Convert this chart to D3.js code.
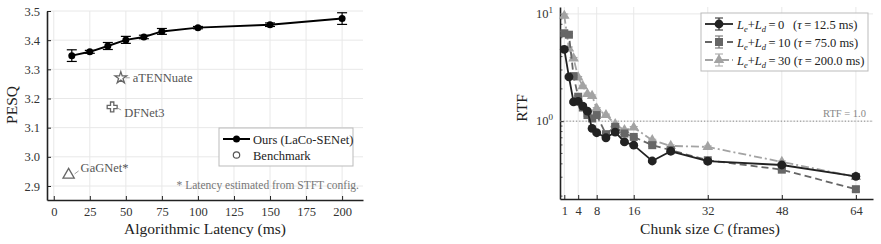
<!DOCTYPE html>
<html>
<head>
<meta charset="utf-8">
<script src="https://cdn.jsdelivr.net/npm/d3@7"></script>
<style>
  body { margin: 0; background: #fff; }
  svg { font-family: "Liberation Serif", "DejaVu Serif", serif; }
  .grid line { stroke: #e8e8e8; stroke-width: 1; }
  .axis .domain { stroke: #222; stroke-width: 1.6; }
  .axis .tick line { stroke: #222; stroke-width: 1; }
  .axis text { font-size: 12.5px; fill: #333; font-family: "Liberation Serif", serif; }
</style>
</head>
<body>
<svg id="chart" width="881" height="244"></svg>
<script>
// ---- left panel data: PESQ vs algorithmic latency
const latency = [12.5, 25, 37.5, 50, 62.5, 75, 100, 150, 200]
const pesq = [3.347, 3.360, 3.380, 3.401, 3.411, 3.430, 3.443, 3.453, 3.474]
const pesqErr = [0.020, 0.005, 0.012, 0.012, 0.006, 0.010, 0.004, 0.006, 0.020]

const benchNames = ['aTENNuate', 'DFNet3', 'GaGNet*']
const benchLatency = [46.5, 40.5, 10.3]
const benchPesq = [3.271, 3.171, 2.938]

const latTicks = [0, 25, 50, 75, 100, 125, 150, 175, 200]
const pesqTicks = [2.9, 3.0, 3.1, 3.2, 3.3, 3.4, 3.5]

// ---- right panel data: RTF vs chunk size
const chunk = [1, 2, 3, 4, 5, 6, 7, 8, 10, 12, 14, 16, 20, 24, 32, 48, 64]
const rtf0 = [4.68, 2.59, 1.51, 1.53, 1.38, 1.24, 0.855, 0.78, 0.70, 0.79, 0.64, 0.597, 0.425, 0.524, 0.423, 0.39, 0.306]
const rtf10 = [6.6, 6.4, 2.63, 1.69, 1.34, 1.14, 1.06, 1.14, 0.756, 0.885, 0.767, 0.713, 0.597, 0.536, 0.432, 0.353, 0.232]
const rtf30 = [9.6, 4.77, 3.85, 2.56, 2.12, 1.79, 1.72, 1.31, 1.14, 0.937, 0.824, 0.873, 0.665, 0.588, 0.575, 0.417, 0.302]
const errRel = [0.04, 0.03, 0.02, 0.02, 0.02, 0.02, 0.02, 0.02, 0.02, 0.02, 0.02, 0.02, 0.02, 0.02, 0.02, 0.02, 0.05]
const lookahead = [0, 10, 30]
const tauMs = ['12.5', '75.0', '200.0']
const chunkTicks = [1, 4, 8, 16, 32, 48, 64]

const svg = d3.select('#chart')

// ================= LEFT PANEL =================
const L = { left: 47, right: 363, top: 11, bottom: 200 }
const xL = d3.scaleLinear().domain([-4.7, 214.5]).range([L.left, L.right])
const yL = d3.scaleLinear().domain([2.852, 3.5]).range([L.bottom, L.top])

const gL = svg.append('g')

gL.append('g').attr('class', 'grid')
  .selectAll('line').data(latTicks).join('line')
  .attr('x1', d => xL(d)).attr('x2', d => xL(d))
  .attr('y1', L.top).attr('y2', L.bottom)
gL.append('g').attr('class', 'grid')
  .selectAll('line').data(pesqTicks).join('line')
  .attr('x1', L.left).attr('x2', L.right)
  .attr('y1', d => yL(d)).attr('y2', d => yL(d))

gL.append('g').attr('class', 'axis')
  .attr('transform', `translate(0,${L.bottom})`)
  .call(d3.axisBottom(xL).tickValues(latTicks).tickSize(-4).tickSizeOuter(0).tickPadding(7))
gL.append('g').attr('class', 'axis')
  .attr('transform', `translate(${L.left},0)`)
  .call(d3.axisLeft(yL).tickValues(pesqTicks).tickFormat(d3.format('.1f')).tickSize(-4).tickSizeOuter(0).tickPadding(7))

// benchmarks
const symScale = d3.scaleOrdinal().domain(benchNames).range([d3.symbolStar, d3.symbolCross, d3.symbolTriangle])
const symSize = { 'aTENNuate': 42, 'DFNet3': 55, 'GaGNet*': 55 }
const labelOff = { 'aTENNuate': [12, 4, 5, 0, 9, 0], 'DFNet3': [12, 10, 5, 1, 9, 3], 'GaGNet*': [12, -3, 6, -1, 10, -4] }
const bench = benchNames.map((n, i) => ({ name: n, x: benchLatency[i], y: benchPesq[i] }))
const bg = gL.append('g').selectAll('g').data(bench).join('g')
  .attr('transform', d => `translate(${xL(d.x)},${yL(d.y)})`)
bg.append('path')
  .attr('d', d => d3.symbol(symScale(d.name), symSize[d.name])())
  .attr('fill', '#fff').attr('stroke', '#666').attr('stroke-width', 1.3)
bg.append('line')
  .attr('x1', d => labelOff[d.name][2]).attr('y1', d => labelOff[d.name][3])
  .attr('x2', d => labelOff[d.name][4]).attr('y2', d => labelOff[d.name][5])
  .attr('stroke', '#888').attr('stroke-width', 0.8)
bg.append('text')
  .attr('x', d => labelOff[d.name][0]).attr('y', d => labelOff[d.name][1])
  .attr('font-size', 12.5).attr('fill', '#555')
  .text(d => d.name)

// ours
const ours = latency.map((x, i) => ({ x, y: pesq[i], e: pesqErr[i] }))
gL.append('path').datum(ours)
  .attr('fill', 'none').attr('stroke', '#000').attr('stroke-width', 2)
  .attr('d', d3.line().x(d => xL(d.x)).y(d => yL(d.y)))
const eb = gL.append('g').selectAll('g').data(ours).join('g')
eb.append('line')
  .attr('x1', d => xL(d.x)).attr('x2', d => xL(d.x))
  .attr('y1', d => yL(d.y - d.e)).attr('y2', d => yL(d.y + d.e))
  .attr('stroke', '#000').attr('stroke-width', 1.2)
eb.selectAll('.cap').data(d => [[d.x, d.y - d.e], [d.x, d.y + d.e]]).join('line')
  .attr('x1', d => xL(d[0]) - 5).attr('x2', d => xL(d[0]) + 5)
  .attr('y1', d => yL(d[1])).attr('y2', d => yL(d[1]))
  .attr('stroke', '#000').attr('stroke-width', 1.2)
eb.append('circle')
  .attr('cx', d => xL(d.x)).attr('cy', d => yL(d.y)).attr('r', 3.5).attr('fill', '#000')

// legend
const lg = gL.append('g').attr('transform', 'translate(219,128)')
lg.append('rect').attr('width', 134).attr('height', 38)
  .attr('fill', '#fff').attr('stroke', '#bbb').attr('stroke-width', 1)
lg.append('line').attr('x1', 4).attr('x2', 31).attr('y1', 11).attr('y2', 11)
  .attr('stroke', '#000').attr('stroke-width', 2)
lg.append('circle').attr('cx', 17.5).attr('cy', 11).attr('r', 3.5).attr('fill', '#000')
lg.append('text').attr('x', 34).attr('y', 15.5).attr('font-size', 12.5).attr('fill', '#222').text('Ours (LaCo-SENet)')
lg.append('circle').attr('cx', 17.5).attr('cy', 27).attr('r', 3.2)
  .attr('fill', '#fff').attr('stroke', '#555').attr('stroke-width', 1.2)
lg.append('text').attr('x', 34).attr('y', 31.5).attr('font-size', 12.5).attr('fill', '#222').text('Benchmark')

gL.append('text').attr('x', 359).attr('y', 189).attr('text-anchor', 'end')
  .attr('font-size', 11.5).attr('fill', '#777').text('* Latency estimated from STFT config.')

gL.append('text').attr('x', 205).attr('y', 234).attr('text-anchor', 'middle')
  .attr('font-size', 15.5).attr('fill', '#222').text('Algorithmic Latency (ms)')
gL.append('text').attr('transform', 'translate(17,105) rotate(-90)').attr('text-anchor', 'middle')
  .attr('font-size', 15.5).attr('fill', '#222').text('PESQ')

// ================= RIGHT PANEL =================
const R = { left: 560, right: 873, top: 7, bottom: 199 }
const xR = d3.scaleLinear().domain([0.07, 67.7]).range([R.left, R.right])
const yR = d3.scaleLog().domain([0.188, 11.6]).range([R.bottom, R.top])

const gR = svg.append('g')
gR.append('g').attr('class', 'grid')
  .selectAll('line').data(chunkTicks).join('line')
  .attr('x1', d => xR(d)).attr('x2', d => xR(d))
  .attr('y1', R.top).attr('y2', R.bottom)
gR.append('g').attr('class', 'grid')
  .selectAll('line').data([1, 10]).join('line')
  .attr('x1', R.left).attr('x2', R.right)
  .attr('y1', d => yR(d)).attr('y2', d => yR(d))

gR.append('g').attr('class', 'axis')
  .attr('transform', `translate(0,${R.bottom})`)
  .call(d3.axisBottom(xR).tickValues(chunkTicks).tickSize(-4).tickSizeOuter(0).tickPadding(7))

const minor = [0.2, 0.3, 0.4, 0.5, 0.6, 0.7, 0.8, 0.9, 2, 3, 4, 5, 6, 7, 8, 9]
const yAx = gR.append('g').attr('class', 'axis')
  .attr('transform', `translate(${R.left},0)`)
  .call(d3.axisLeft(yR).tickValues([1, 10]).tickFormat('').tickSize(-4).tickSizeOuter(0))
yAx.selectAll('.minor').data(minor).join('line')
  .attr('x1', 0).attr('x2', 2.5).attr('y1', d => yR(d)).attr('y2', d => yR(d))
  .attr('stroke', '#222').attr('stroke-width', 0.8)
const pw = yAx.selectAll('.pw').data([[1, '0'], [10, '1']]).join('text')
  .attr('x', -7).attr('y', d => yR(d[0]) + 4).attr('text-anchor', 'end')
  .attr('font-size', 12.5).attr('fill', '#333')
pw.append('tspan').text('10')
pw.append('tspan').attr('dy', -5).attr('font-size', 9).text(d => d[1])

// RTF = 1 reference
gR.append('line').attr('x1', R.left).attr('x2', R.right).attr('y1', yR(1)).attr('y2', yR(1))
  .attr('stroke', '#888').attr('stroke-width', 1).attr('stroke-dasharray', '1.2,2')
gR.append('text').attr('x', 866).attr('y', yR(1) - 4).attr('text-anchor', 'end')
  .attr('font-size', 10.5).attr('fill', '#888').text('RTF = 1.0')

const series = [
  { vals: rtf0, color: '#222', dash: null, sym: 'circle' },
  { vals: rtf10, color: '#666', dash: '7,4', sym: 'square' },
  { vals: rtf30, color: '#a3a3a3', dash: '8,3,2,3', sym: 'triangle' }
]

function drawMarker(sel, sym, color, size) {
  if (sym === 'circle') {
    sel.append('circle').attr('r', size * 0.55).attr('fill', color)
  } else if (sym === 'square') {
    const s = size * 1.0
    sel.append('rect').attr('x', -s / 2).attr('y', -s / 2).attr('width', s).attr('height', s).attr('fill', color)
  } else {
    sel.append('path').attr('d', d3.symbol(d3.symbolTriangle, size * size * 0.75)()).attr('fill', color)
  }
}

// draw light series first so the dark one sits on top
series.slice().reverse().forEach(s => {
  const pts = chunk.map((c, i) => ({ x: c, y: s.vals[i], e: s.vals[i] * errRel[i] }))
  const g = gR.append('g')
  g.append('path').datum(pts)
    .attr('fill', 'none').attr('stroke', s.color).attr('stroke-width', 1.8)
    .attr('stroke-dasharray', s.dash)
    .attr('d', d3.line().x(d => xR(d.x)).y(d => yR(d.y)))
  const p = g.selectAll('.pt').data(pts).join('g')
    .attr('transform', d => `translate(${xR(d.x)},${yR(d.y)})`)
  p.append('line').attr('x1', 0).attr('x2', 0)
    .attr('y1', d => yR(d.y - d.e) - yR(d.y)).attr('y2', d => yR(d.y + d.e) - yR(d.y))
    .attr('stroke', s.color).attr('stroke-width', 1)
  p.selectAll('.cap').data(d => [d.y - d.e, d.y + d.e].map(v => yR(v) - yR(d.y))).join('line')
    .attr('x1', -4).attr('x2', 4).attr('y1', d => d).attr('y2', d => d)
    .attr('stroke', s.color).attr('stroke-width', 1)
  p.each(function () { drawMarker(d3.select(this), s.sym, s.color, 8) })
})

// legend
const rl = gR.append('g').attr('transform', 'translate(701,13)')
rl.append('rect').attr('width', 167).attr('height', 58)
  .attr('fill', '#fff').attr('fill-opacity', 0.9).attr('stroke', '#bbb').attr('stroke-width', 1)
series.forEach((s, i) => {
  const y = 11 + i * 18
  rl.append('line').attr('x1', 4).attr('x2', 32).attr('y1', y).attr('y2', y)
    .attr('stroke', s.color).attr('stroke-width', 1.8).attr('stroke-dasharray', s.dash)
  rl.append('line').attr('x1', 18).attr('x2', 18).attr('y1', y - 6).attr('y2', y + 6)
    .attr('stroke', s.color).attr('stroke-width', 1)
  rl.selectAll(null).data([y - 6, y + 6]).join('line')
    .attr('x1', 14).attr('x2', 22).attr('y1', d => d).attr('y2', d => d)
    .attr('stroke', s.color).attr('stroke-width', 1)
  drawMarker(rl.append('g').attr('transform', `translate(18,${y})`), s.sym, s.color, 8)
  const t = rl.append('text').attr('x', 36).attr('y', y + 4.5).attr('font-size', 12.5).attr('fill', '#222')
  t.append('tspan').attr('font-style', 'italic').text('L')
  t.append('tspan').attr('font-style', 'italic').attr('font-size', 8.5).attr('dy', 3).text('e')
  t.append('tspan').attr('dy', -3).text('+')
  t.append('tspan').attr('font-style', 'italic').text('L')
  t.append('tspan').attr('font-style', 'italic').attr('font-size', 8.5).attr('dy', 3).text('d')
  t.append('tspan').attr('dy', -3).text('\u2009=\u2009' + lookahead[i] + (i === 0 ? '\u2002\u2009(' : ' ('))
  t.append('tspan').attr('font-style', 'italic').text('\u03c4')
  t.append('tspan').text('\u2009=\u2009' + tauMs[i] + ' ms)')
})

const xt = gR.append('text').attr('x', 710).attr('y', 234).attr('text-anchor', 'middle')
  .attr('font-size', 15.5).attr('fill', '#222')
xt.append('tspan').text('Chunk size ')
xt.append('tspan').attr('font-style', 'italic').text('C')
xt.append('tspan').text(' (frames)')
gR.append('text').attr('transform', 'translate(527,108) rotate(-90)').attr('text-anchor', 'middle')
  .attr('font-size', 15.5).attr('fill', '#222').text('RTF')
</script>
</body>
</html>
